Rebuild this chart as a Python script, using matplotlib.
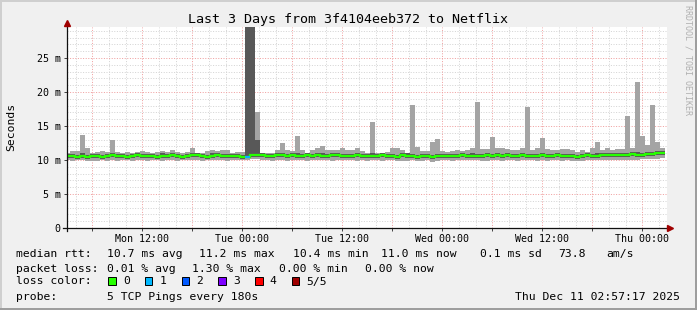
import matplotlib
matplotlib.use("Agg")
import matplotlib.pyplot as plt
from matplotlib.lines import Line2D
from matplotlib.patches import Rectangle

W, H = 697, 310

# time axis in hours after Mon 00:00, 36 minute consolidation steps
t_first = 2.7
step = 0.6
t_end = 74.955  # Thu 02:57:17
span = 72

# median rtt per step (ms)
med = [10.6, 10.6, 10.5, 10.6, 10.5, 10.6, 10.6, 10.5, 10.6, 10.7,
       10.6, 10.6, 10.5, 10.6, 10.7, 10.6, 10.6, 10.6, 10.5, 10.6,
       10.6, 10.7, 10.6, 10.5, 10.6, 10.7, 10.7, 10.6, 10.5, 10.6,
       10.7, 10.6, 10.6, 10.6, 10.6, 10.5, 10.4, 10.8, 10.8, 10.7,
       10.6, 10.6, 10.7, 10.7, 10.6, 10.7, 10.6, 10.6, 10.7, 10.6,
       10.7, 10.6, 10.6, 10.7, 10.7, 10.6, 10.6, 10.6, 10.7, 10.6,
       10.6, 10.6, 10.6, 10.7, 10.6, 10.6, 10.5, 10.7, 10.6, 10.6,
       10.5, 10.6, 10.6, 10.5, 10.6, 10.6, 10.6, 10.6, 10.6, 10.7,
       10.6, 10.6, 10.6, 10.6, 10.7, 10.6, 10.7, 10.6, 10.7, 10.6,
       10.6, 10.7, 10.6, 10.6, 10.6, 10.7, 10.6, 10.6, 10.7, 10.6,
       10.6, 10.6, 10.5, 10.6, 10.7, 10.6, 10.6, 10.7, 10.8, 10.8,
       10.8, 10.8, 10.8, 10.9, 10.8, 10.8, 10.9, 10.9, 11.0, 11.0]

# smoke: sorted ping 1 (lowest), 2, 4 and 5 (highest)
p1 = [10.0, 9.9, 10.0, 10.0, 9.8, 9.9, 9.8, 10.0, 9.9, 10.0,
      9.9, 10.0, 10.0, 9.9, 10.0, 10.0, 9.9, 10.0, 10.0, 9.9,
      10.0, 10.0, 9.9, 10.0, 10.0, 10.0, 10.0, 9.9, 10.0, 10.0,
      10.0, 10.0, 9.9, 10.0, 10.0, 10.0, 10.0, 10.1, 10.1, 10.0,
      10.0, 9.9, 10.0, 10.0, 9.9, 10.0, 10.0, 10.0, 9.9, 10.0,
      10.0, 10.0, 10.0, 9.9, 10.0, 10.0, 10.0, 10.0, 9.9, 10.0,
      9.8, 10.0, 10.0, 9.9, 10.0, 10.0, 9.9, 9.8, 9.9, 10.0,
      9.8, 9.9, 10.0, 9.7, 9.8, 10.0, 10.0, 9.9, 10.0, 10.0,
      10.0, 10.0, 10.0, 9.9, 9.9, 10.0, 10.0, 9.8, 10.0, 10.0,
      9.8, 10.0, 10.0, 10.0, 9.9, 10.0, 9.9, 10.0, 10.0, 9.8,
      10.0, 9.9, 9.8, 9.8, 10.0, 10.0, 10.0, 10.0, 10.0, 10.0,
      10.0, 10.0, 10.0, 10.0, 10.0, 10.1, 10.1, 10.1, 10.2, 10.3]

p2 = [10.3, 10.3, 10.2, 10.3, 10.2, 10.3, 10.3, 10.2, 10.3, 10.4,
      10.3, 10.3, 10.2, 10.3, 10.4, 10.3, 10.3, 10.3, 10.2, 10.3,
      10.3, 10.4, 10.3, 10.2, 10.3, 10.4, 10.4, 10.3, 10.2, 10.3,
      10.4, 10.3, 10.3, 10.3, 10.3, 10.2, 10.3, 10.5, 10.5, 10.4,
      10.3, 10.3, 10.4, 10.4, 10.3, 10.4, 10.3, 10.3, 10.4, 10.3,
      10.4, 10.3, 10.3, 10.4, 10.4, 10.3, 10.3, 10.3, 10.4, 10.3,
      10.3, 10.3, 10.3, 10.4, 10.3, 10.3, 10.2, 10.4, 10.3, 10.3,
      10.2, 10.3, 10.3, 10.1, 10.3, 10.3, 10.3, 10.3, 10.3, 10.4,
      10.3, 10.3, 10.3, 10.3, 10.4, 10.3, 10.4, 10.3, 10.4, 10.3,
      10.3, 10.4, 10.3, 10.3, 10.3, 10.4, 10.3, 10.3, 10.4, 10.3,
      10.3, 10.3, 10.2, 10.3, 10.4, 10.3, 10.3, 10.4, 10.5, 10.5,
      10.5, 10.5, 10.5, 10.6, 10.5, 10.5, 10.6, 10.6, 10.7, 10.7]

p4 = [10.9, 10.9, 10.8, 11.0, 10.8, 10.9, 10.9, 10.8, 10.9, 11.0,
      10.9, 10.9, 10.8, 10.9, 11.0, 10.9, 10.9, 10.9, 10.8, 11.0,
      10.9, 11.0, 10.9, 10.8, 10.9, 11.0, 11.0, 10.9, 10.8, 11.0,
      11.0, 10.9, 10.9, 10.9, 10.9, 10.8, 40.0, 40.0, 12.9, 11.0,
      10.9, 10.9, 11.0, 11.0, 10.9, 11.0, 11.0, 10.9, 11.0, 10.9,
      11.0, 11.0, 10.9, 11.0, 11.0, 10.9, 10.9, 10.9, 11.0, 10.9,
      10.9, 11.0, 10.9, 11.0, 10.9, 10.9, 10.8, 11.0, 11.1, 10.9,
      10.8, 10.9, 10.9, 10.8, 10.9, 10.9, 10.9, 10.9, 10.9, 11.0,
      10.9, 11.0, 10.9, 10.9, 11.0, 10.9, 11.0, 10.9, 11.0, 10.9,
      10.9, 11.0, 10.9, 10.9, 10.9, 11.0, 10.9, 10.9, 11.0, 10.9,
      10.9, 10.9, 10.8, 10.9, 11.0, 10.9, 11.0, 11.0, 11.1, 11.1,
      11.1, 11.1, 11.1, 11.2, 11.2, 11.1, 11.2, 11.2, 11.3, 11.3]

p5 = [11.1, 11.3, 11.3, 13.7, 11.8, 11.1, 11.2, 11.3, 11.2, 12.9,
      11.2, 11.1, 11.2, 11.1, 11.2, 11.3, 11.2, 11.1, 11.2, 11.3,
      11.2, 11.4, 11.2, 11.1, 11.2, 11.7, 11.1, 11.1, 11.3, 11.5,
      11.3, 11.5, 11.5, 11.1, 11.2, 11.2, 40.0, 40.0, 17.1, 11.1,
      11.1, 11.1, 11.5, 12.5, 11.4, 11.3, 13.6, 11.4, 11.1, 11.5,
      11.8, 12.1, 11.5, 11.5, 11.5, 11.8, 11.5, 11.5, 11.8, 11.3,
      11.1, 15.6, 11.1, 11.1, 11.2, 11.8, 11.8, 11.5, 11.1, 18.1,
      11.9, 11.3, 11.3, 12.7, 13.1, 11.3, 11.2, 11.3, 11.5, 11.3,
      11.5, 11.7, 18.5, 11.6, 11.6, 13.4, 11.8, 11.8, 11.6, 11.5,
      11.5, 11.8, 17.8, 11.5, 11.7, 13.3, 11.6, 11.5, 11.4, 11.6,
      11.6, 11.5, 11.2, 11.4, 11.2, 11.8, 12.7, 11.5, 11.8, 11.4,
      11.6, 11.6, 16.4, 11.8, 21.4, 13.5, 12.2, 18.1, 12.7, 11.7]

# lost pings per round (median colour)
loss = [0] * 36 + [1] + [0] * 83

loss_colors = ["#26ff00", "#00b8ff", "#0059ff", "#7e00ff", "#ff0000", "#a00000"]
loss_labels = ["0", "1", "2", "3", "4", "5/5"]

y_ticks = [0, 5, 10, 15, 20, 25]
y_labels = ["0", "5 m", "10 m", "15 m", "20 m", "25 m"]
x_label_hours = [12, 24, 36, 48, 60, 72]
x_labels = ["Mon 12:00", "Tue 00:00", "Tue 12:00", "Wed 00:00", "Wed 12:00", "Thu 00:00"]

plt.rcParams["font.family"] = "DejaVu Sans Mono"


def fx(px):
    return px / W


def fy(py):
    return 1 - py / H


fig = plt.figure(figsize=(W / 100, H / 100), dpi=100, facecolor="#f0f0f0")

# 3d frame
fig.add_artist(Rectangle((0, 0), 1, fy(308), transform=fig.transFigure, color="#9e9e9e", lw=0))
fig.add_artist(Rectangle((fx(695), 0), fx(2), 1, transform=fig.transFigure, color="#9e9e9e", lw=0))
fig.add_artist(Rectangle((0, fy(2)), fx(695), fy(0) - fy(2), transform=fig.transFigure, color="#cfcfcf", lw=0))
fig.add_artist(Rectangle((0, fy(308)), fx(2), fy(2) - fy(308), transform=fig.transFigure, color="#cfcfcf", lw=0))

ax = fig.add_axes([fx(67), fy(228), 600 / W, (228 - 26.7) / H])
ax.set_facecolor("white")
ax.set_xlim(t_end - span, t_end)
ax.set_ylim(0, 29.6)

starts = [t_first + step * i for i in range(len(med))]
edges = starts + [starts[-1] + step]

ax.bar(starts, [h - l for h, l in zip(p5, p1)], bottom=p1, width=step, align="edge",
       color="#a4a4a4", lw=0, zorder=2)
ax.bar(starts, [h - l for h, l in zip(p4, p2)], bottom=p2, width=step, align="edge",
       color="#585858", lw=0, zorder=3)
ax.stairs(med, edges, baseline=None, color=loss_colors[0], lw=1.6, zorder=4)
for s, m, l in zip(starts, med, loss):
    if l > 0:
        ax.hlines(m, s, s + step, color=loss_colors[l], lw=1.6, zorder=5)

# grid: minor grey dots, major red dots
dots = (0, (1, 1.6))
for h in range(4, 75, 2):
    if h % 6:
        ax.axvline(h, color="#d4d4d4", ls=dots, lw=0.72, snap=True, zorder=0)
for v in range(1, 30):
    if v % 5:
        ax.axhline(v, color="#d4d4d4", ls=dots, lw=0.72, snap=True, zorder=0)
for h in range(6, 75, 6):
    ax.axvline(h, color="#f0a0a0", ls=dots, lw=0.72, snap=True, zorder=1)
for v in y_ticks[1:]:
    ax.axhline(v, color="#f0a0a0", ls=dots, lw=0.72, snap=True, zorder=1)

ax.set_yticks(y_ticks)
ax.set_yticklabels(y_labels)
ax.set_xticks(range(6, 75, 6))
ax.set_xticklabels([x_labels[x_label_hours.index(h)] if h in x_label_hours else ""
                    for h in range(6, 75, 6)])
ax.tick_params(which="major", length=2.5, width=0.7, color="#404040", labelsize=7.2, pad=2)
for sp in ax.spines.values():
    sp.set_visible(False)

# axes with arrows
fig.add_artist(Line2D([fx(63), fx(670)], [fy(228), fy(228)], transform=fig.transFigure,
                      color="#101010", lw=0.9))
fig.add_artist(Line2D([fx(67), fx(67)], [fy(231), fy(24)], transform=fig.transFigure,
                      color="#101010", lw=0.9))
fig.add_artist(Line2D([fx(670)], [fy(228)], transform=fig.transFigure, marker=">",
                      color="#a00000", markersize=4, lw=0))
fig.add_artist(Line2D([fx(67)], [fy(23)], transform=fig.transFigure, marker="^",
                      color="#a00000", markersize=4, lw=0))

fig.text(fx(348), fy(19), "Last 3 Days from 3f4104eeb372 to Netflix", ha="center", va="center",
         fontsize=9.6)
fig.text(fx(11), fy(127), "Seconds", rotation=90, ha="center", va="center", fontsize=8.2)
fig.text(fx(688), fy(5), "RRDTOOL / TOBI OETIKER", rotation=-90, ha="center", va="top",
         fontsize=6, color="#b0b0b0")

# legend
fs = 8.2
row1 = [(16.4, "median rtt:"), (107.4, "10.7 ms avg"), (199, "11.2 ms max"), (293.3, "10.4 ms min"),
        (381.3, "11.0 ms now"), (480, "0.1 ms sd"), (557.8, "73.8"), (606.7, "am/s")]
for x, s in row1:
    fig.text(fx(x), fy(254), s, ha="left", va="center", fontsize=fs)
row2 = [(16.4, "packet loss:"), (107.4, "0.01 % avg"), (192.5, "1.30 % max"), (279, "0.00 % min"),
        (365.3, "0.00 % now")]
for x, s in row2:
    fig.text(fx(x), fy(268.5), s, ha="left", va="center", fontsize=fs)
fig.text(fx(16.4), fy(281.5), "loss color:", ha="left", va="center", fontsize=fs)
for k, (c, lab) in enumerate(zip(loss_colors, loss_labels)):
    x0 = 108.3 + 36.7 * k
    fig.add_artist(Rectangle((fx(x0), fy(284.5)), 7.4 / W, 7.6 / H, transform=fig.transFigure,
                             facecolor=c, edgecolor="black", lw=0.7))
    fig.text(fx(x0 + 14.5), fy(281.5), lab, ha="left", va="center", fontsize=fs)
fig.text(fx(16.4), fy(296.5), "probe:", ha="left", va="center", fontsize=fs)
fig.text(fx(107.4), fy(296.5), "5 TCP Pings every 180s", ha="left", va="center", fontsize=fs)
fig.text(fx(680), fy(296.5), "Thu Dec 11 02:57:17 2025", ha="right", va="center", fontsize=fs)

fig.savefig("out.png", dpi=100, facecolor=fig.get_facecolor())
